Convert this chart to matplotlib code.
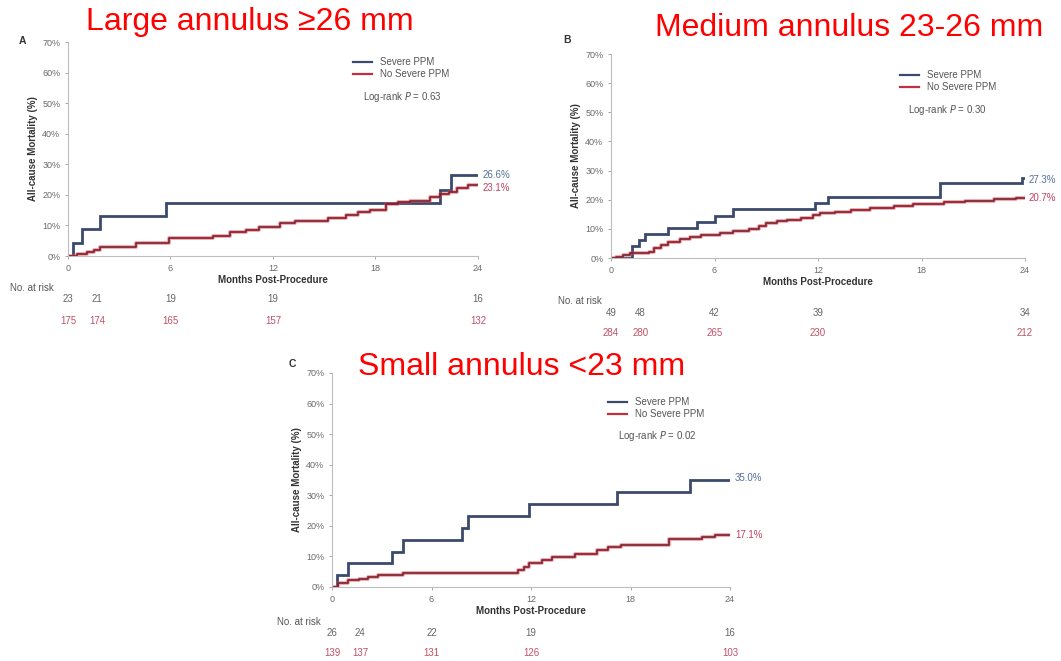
import matplotlib
matplotlib.use("Agg")
import matplotlib.pyplot as plt
from matplotlib.transforms import blended_transform_factory

plt.rcParams["font.family"] = ["Liberation Sans", "DejaVu Sans"]

W, H = 1061, 661

# ---- Panel A: large annulus ----
a_sev_t = [0, 0.3, 0.8, 1.85, 5.75, 21.8, 22.4, 24]
a_sev_v = [0, 4.35, 8.7, 13.0, 17.4, 21.7, 26.6, 26.6]
a_no_t = [0, 0.5, 1.1, 1.5, 1.9, 4.0, 5.9, 8.5, 9.5, 10.4, 11.2, 12.4, 13.3, 14.2,
          15.2, 16.3, 17.0, 17.7, 18.6, 19.3, 20.0, 21.2, 21.8, 22.3, 22.8, 23.4, 24]
a_no_v = [0, 0.6, 1.2, 2.0, 2.8, 4.1, 5.8, 6.5, 8.0, 8.6, 9.6, 10.9, 11.3, 11.6,
          12.4, 13.5, 14.4, 15.0, 17.0, 17.6, 18.1, 19.2, 20.3, 21.0, 22.1, 23.1, 23.1]
a_risk_sev = [23, 21, 19, 19, 16]
a_risk_no = [175, 174, 165, 157, 132]
a_p = "0.63"

# ---- Panel B: medium annulus ----
b_sev_t = [0, 1.2, 1.65, 1.95, 3.3, 5.0, 6.05, 7.1, 11.8, 12.6, 19.05, 23.8, 24]
b_sev_v = [0, 4.1, 6.1, 8.2, 10.2, 12.2, 14.3, 16.7, 18.8, 21.0, 25.6, 27.3, 27.3]
b_no_t = [0, 0.3, 0.7, 1.1, 2.2, 2.5, 2.9, 3.3, 4.0, 4.6, 5.2, 6.3, 7.1, 8.0, 8.6,
          9.0, 9.6, 10.2, 11.0, 11.7, 12.1, 13.0, 13.9, 15.0, 16.4, 17.5, 19.3,
          20.5, 22.2, 23.5, 24]
b_no_v = [0, 0.5, 1.1, 1.6, 2.2, 3.3, 4.3, 5.5, 6.6, 7.3, 8.0, 8.7, 9.2, 10.0, 11.0,
          12.1, 12.6, 13.1, 13.8, 14.6, 15.4, 15.9, 16.5, 17.2, 18.0, 18.6, 19.2,
          19.6, 20.1, 20.7, 20.7]
b_risk_sev = [49, 48, 42, 39, 34]
b_risk_no = [284, 280, 265, 230, 212]
b_p = "0.30"

# ---- Panel C: small annulus ----
c_sev_t = [0, 0.28, 0.95, 3.6, 4.3, 7.85, 8.2, 11.9, 17.2, 21.6, 24]
c_sev_v = [0, 3.8, 7.7, 11.5, 15.4, 19.2, 23.1, 27.0, 31.0, 35.0, 35.0]
c_no_t = [0, 0.36, 0.97, 1.6, 2.2, 2.8, 4.3, 11.24, 11.6, 11.85, 12.65, 13.25,
          14.66, 15.96, 16.67, 17.4, 20.3, 22.3, 23.1, 24]
c_no_v = [0, 1.3, 2.2, 2.6, 3.2, 3.9, 4.7, 5.6, 6.6, 7.7, 8.8, 9.9,
          10.8, 12.1, 13.0, 13.7, 15.7, 16.4, 17.1, 17.1]
c_risk_sev = [26, 24, 22, 19, 16]
c_risk_no = [139, 137, 131, 126, 103]
c_p = "0.02"

risk_months = [0, 1.7, 6, 12, 24]
x_ticks = [0, 6, 12, 18, 24]
y_ticks = [0, 10, 20, 30, 40, 50, 60, 70]

BLUE = "#3b4a6c"
RED_DARK = "#7a2230"
RED_HALO = "#e8404f"
GREY = "#6a6a6a"
RISK_RED = "#c25067"
SMALL = 7

fig = plt.figure(figsize=(W / 100, H / 100), dpi=100)
fig.patch.set_facecolor("white")


def fx(px):
    return px / W


def fy(py):
    return 1 - py / H


def panel(box, letter, letter_xy, title, title_xy,
          sev_t, sev_v, no_t, no_v, risk_sev, risk_no, pval,
          legend_xy, p_xy, end_x, sev_end_y, no_end_y, risk_rows, risk_label_xy):
    left, top, right, bottom = box
    ax = fig.add_axes([fx(left), fy(bottom), fx(right - left), (bottom - top) / H])
    ax.set_xlim(0, 24)
    ax.set_ylim(0, 70)
    ax.set_xticks(x_ticks)
    ax.set_yticks(y_ticks)
    ax.set_yticklabels([f"{v}%" for v in y_ticks])
    ax.tick_params(labelsize=6.5, colors="#9a9a9a", labelcolor=GREY, length=2.5,
                   width=0.6, pad=3)
    for s in ("top", "right"):
        ax.spines[s].set_visible(False)
    for s in ("left", "bottom"):
        ax.spines[s].set_color("#bdbdbd")
        ax.spines[s].set_linewidth(0.8)

    ax.step(sev_t, sev_v, where="post", color=BLUE, lw=2.0, solid_joinstyle="miter")
    ax.step(no_t, no_v, where="post", color=RED_HALO, lw=2.6, alpha=0.55)
    ax.step(no_t, no_v, where="post", color=RED_DARK, lw=1.2)

    ax.set_xlabel("Months Post-Procedure", fontsize=SMALL, fontweight="bold",
                  color="#333333", labelpad=2)
    ax.set_ylabel("All-cause Mortality (%)", fontsize=SMALL, fontweight="bold",
                  color="#333333", labelpad=3)

    # end-of-follow-up values
    fig.text(fx(end_x), fy(sev_end_y), f"{sev_v[-1]:.1f}%", fontsize=SMALL,
             color="#56709a", va="center")
    fig.text(fx(end_x), fy(no_end_y), f"{no_v[-1]:.1f}%", fontsize=SMALL,
             color="#c04060", va="center")

    # legend
    lx, ly = legend_xy
    fig.lines.append(plt.Line2D([fx(lx), fx(lx + 19)], [fy(ly), fy(ly)],
                                transform=fig.transFigure, color=BLUE, lw=1.6))
    fig.lines.append(plt.Line2D([fx(lx), fx(lx + 19)], [fy(ly + 12), fy(ly + 12)],
                                transform=fig.transFigure, color="#c0303f", lw=1.6))
    fig.text(fx(lx + 27), fy(ly), "Severe PPM", fontsize=SMALL, color="#555555",
             va="center")
    fig.text(fx(lx + 27), fy(ly + 12), "No Severe PPM", fontsize=SMALL, color="#555555",
             va="center")
    fig.text(fx(p_xy[0]), fy(p_xy[1]), f"Log-rank $\\it{{P}}$ = {pval}", fontsize=SMALL,
             color="#555555", va="center")

    # numbers at risk
    trans = blended_transform_factory(ax.transData, fig.transFigure)
    fig.text(fx(risk_label_xy[0]), fy(risk_label_xy[1]), "No. at risk", fontsize=SMALL,
             color="#555555", va="center")
    for m, n1, n2 in zip(risk_months, risk_sev, risk_no):
        ax.text(m, fy(risk_rows[0]), str(n1), transform=trans, ha="center", va="center",
                fontsize=SMALL, color="#666666", clip_on=False)
        ax.text(m, fy(risk_rows[1]), str(n2), transform=trans, ha="center", va="center",
                fontsize=SMALL, color=RISK_RED, clip_on=False)

    fig.text(fx(letter_xy[0]), fy(letter_xy[1]), letter, fontsize=7.5, fontweight="bold",
             color="#333333", va="center", ha="center")
    fig.text(fx(title_xy[0]), fy(title_xy[1]), title, fontsize=23, color="#ff0000",
             va="center", ha="center")
    return ax


panel((68, 42, 478, 256), "A", (22, 41), "Large annulus \u226526 mm", (250, 22),
      a_sev_t, a_sev_v, a_no_t, a_no_v, a_risk_sev, a_risk_no, a_p,
      (353, 62), (363, 97), 483, 175, 188, (299, 321), (10, 288))

panel((611, 54, 1025, 258), "B", (567, 40), "Medium annulus 23-26 mm", (849, 28),
      b_sev_t, b_sev_v, b_no_t, b_no_v, b_risk_sev, b_risk_no, b_p,
      (900, 75), (908, 110), 1029, 180, 198, (313, 333), (558, 301))

panel((332, 373, 730, 587), "C", (292, 364), "Small annulus <23 mm", (522, 367),
      c_sev_t, c_sev_v, c_no_t, c_no_v, c_risk_sev, c_risk_no, c_p,
      (608, 402), (618, 436), 735, 478, 535, (633, 653), (277, 622))

fig.savefig("out.png", dpi=100, facecolor="white")
